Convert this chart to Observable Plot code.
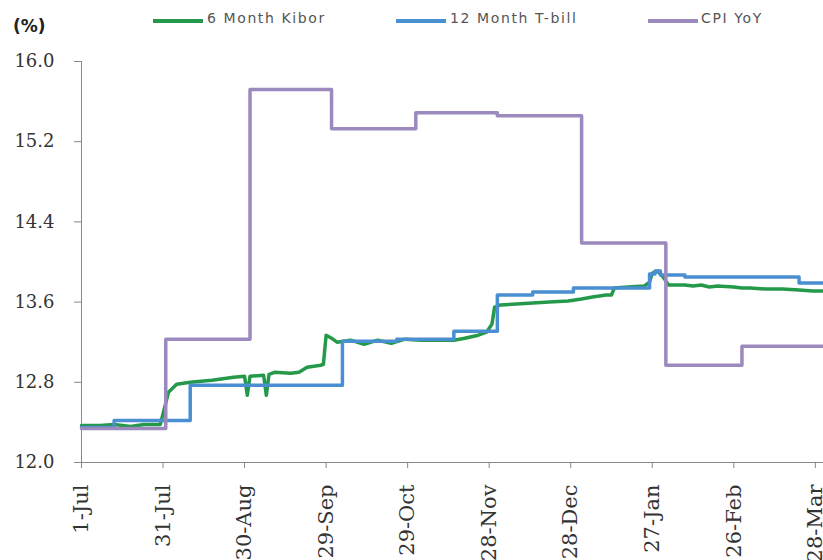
<!DOCTYPE html>
<html>
<head>
<meta charset="utf-8">
<script src="https://cdn.jsdelivr.net/npm/d3@7"></script>
<script src="https://cdn.jsdelivr.net/npm/@observablehq/plot@0.6"></script>
<style>
  body { margin: 0; background: #fff; }
  #wrap { width: 823px; height: 560px; overflow: hidden; background: #fff; }
  #legend { position: relative; height: 48px; font-family: "DejaVu Sans", sans-serif; }
  #legend .unit { position: absolute; left: 13px; top: 16px; font-weight: bold; font-size: 17px; color: #222; }
  #legend .sw { position: absolute; top: 19px; height: 4px; width: 50px; }
  #legend .tx { position: absolute; top: 10px; font-size: 14px; color: #555; letter-spacing: 1.6px; }
</style>
</head>
<body>
<div id="wrap">
  <div id="legend"></div>
  <div id="chart"></div>
</div>
<script>
// ---- Data ----
const seriesNames = ["6 Month Kibor", "12 Month T-bill", "CPI YoY"];
const seriesColors = ["#25994a", "#4a8fd2", "#9c89be"];

const kiborDates = ["2010-07-01","2010-07-08","2010-07-13","2010-07-19","2010-07-24","2010-07-30","2010-08-02","2010-08-05","2010-08-10","2010-08-18","2010-08-26","2010-08-30","2010-08-31","2010-09-01","2010-09-06","2010-09-07","2010-09-08","2010-09-10","2010-09-16","2010-09-19","2010-09-22","2010-09-27","2010-09-28","2010-09-29","2010-10-01","2010-10-03","2010-10-08","2010-10-13","2010-10-18","2010-10-23","2010-10-28","2010-11-03","2010-11-10","2010-11-15","2010-11-19","2010-11-24","2010-11-27","2010-11-29","2010-11-30","2010-12-02","2010-12-08","2010-12-14","2010-12-20","2010-12-27","2011-01-01","2011-01-05","2011-01-10","2011-01-12","2011-01-13","2011-01-18","2011-01-24","2011-01-26","2011-01-27","2011-01-29","2011-01-31","2011-02-02","2011-02-08","2011-02-11","2011-02-14","2011-02-17","2011-02-20","2011-02-26","2011-03-01","2011-03-04","2011-03-10","2011-03-16","2011-03-22","2011-03-27","2011-03-31"];
const kiborValues = [12.37,12.37,12.38,12.36,12.38,12.38,12.70,12.78,12.80,12.82,12.85,12.86,12.67,12.86,12.87,12.67,12.88,12.90,12.89,12.90,12.95,12.97,12.98,13.27,13.24,13.20,13.22,13.18,13.22,13.19,13.23,13.22,13.22,13.22,13.24,13.27,13.30,13.38,13.55,13.57,13.58,13.59,13.60,13.61,13.63,13.65,13.67,13.67,13.74,13.75,13.76,13.80,13.89,13.91,13.85,13.77,13.77,13.76,13.77,13.75,13.76,13.75,13.74,13.74,13.73,13.73,13.72,13.71,13.71];

const tbillDates = ["2010-07-01","2010-07-13","2010-08-10","2010-10-05","2010-10-25","2010-11-15","2010-12-01","2010-12-14","2010-12-29","2011-01-26","2011-01-28","2011-01-30","2011-02-08","2011-03-22","2011-03-31"];
const tbillValues = [12.35,12.42,12.77,13.21,13.23,13.31,13.67,13.70,13.74,13.88,13.91,13.87,13.85,13.79,13.79];

const cpiDates = ["2010-07-01","2010-08-01","2010-09-01","2010-10-01","2010-11-01","2010-12-01","2011-01-01","2011-02-01","2011-03-01","2011-03-31"];
const cpiValues = [12.34,13.23,15.72,15.33,15.49,15.46,14.19,12.97,13.16,13.16];

const xTickDates = ["2010-07-01","2010-07-31","2010-08-30","2010-09-29","2010-10-29","2010-11-28","2010-12-28","2011-01-27","2011-02-26","2011-03-28"];
const yTicks = [12.0, 12.8, 13.6, 14.4, 15.2, 16.0];

// ---- Build ----
const parse = d3.utcParse("%Y-%m-%d");
const mk = (dates, vals) => dates.map((d, i) => ({date: parse(d), value: vals[i]}));
const kibor = mk(kiborDates, kiborValues);
const tbill = mk(tbillDates, tbillValues);
const cpi = mk(cpiDates, cpiValues);

// legend
const legend = document.getElementById("legend");
const unit = document.createElement("span");
unit.className = "unit"; unit.textContent = "(%)";
legend.appendChild(unit);
const legPos = [[153, 207], [396, 450], [648, 701]];
seriesNames.forEach((name, i) => {
  const sw = document.createElement("div");
  sw.className = "sw"; sw.style.left = legPos[i][0] + "px"; sw.style.background = seriesColors[i];
  legend.appendChild(sw);
  const tx = document.createElement("span");
  tx.className = "tx"; tx.style.left = legPos[i][1] + "px"; tx.textContent = name;
  legend.appendChild(tx);
});

const x0 = parse("2010-07-01"), x1 = parse("2011-03-31");
const chart = Plot.plot({
  width: 823,
  height: 512,
  marginTop: 13,
  marginLeft: 81,
  marginRight: 0,
  marginBottom: 98,
  style: {fontFamily: "DejaVu Serif", background: "white", overflow: "visible"},
  x: {type: "utc", domain: [x0, x1]},
  y: {domain: [12, 16]},
  marks: [
    Plot.axisY({ticks: yTicks, tickFormat: d => d.toFixed(1), tickSize: 7, tickPadding: 20, fontSize: 18, stroke: "#888", fill: "#333", label: null}),
    Plot.axisX({ticks: xTickDates.map(parse), tickFormat: d3.utcFormat("%-d-%b"), tickRotate: -90, tickSize: 6, tickPadding: 16, fontSize: 21, stroke: "#888", fill: "#333", label: null}),
    Plot.ruleX([x0], {stroke: "#888"}),
    Plot.ruleY([12], {stroke: "#888"}),
    Plot.line(kibor, {x: "date", y: "value", stroke: seriesColors[0], strokeWidth: 3.5}),
    Plot.line(tbill, {x: "date", y: "value", stroke: seriesColors[1], strokeWidth: 3.5, curve: "step-after"}),
    Plot.line(cpi, {x: "date", y: "value", stroke: seriesColors[2], strokeWidth: 3.5, curve: "step-after"})
  ]
});
document.getElementById("chart").appendChild(chart);
</script>
</body>
</html>
